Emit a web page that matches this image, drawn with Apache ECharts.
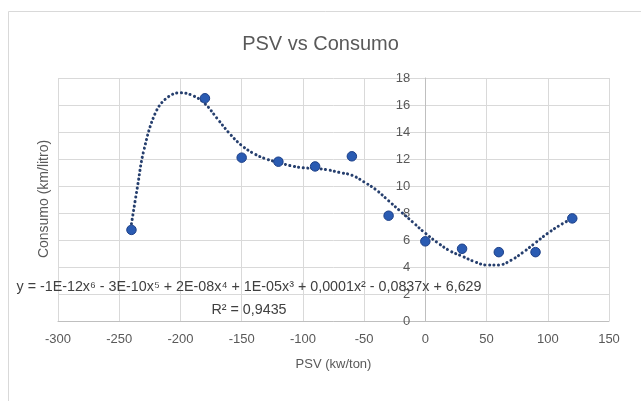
<!DOCTYPE html>
<html>
<head>
<meta charset="utf-8">
<script src="https://cdn.jsdelivr.net/npm/echarts@6/dist/echarts.min.js"></script>
<style>html,body{margin:0;padding:0;background:#fff}#c{width:641px;height:401px}</style>
</head>
<body>
<div id="c"></div>
<script>
const titleText = 'PSV vs Consumo';
const xName = 'PSV (kw/ton)';
const yName = 'Consumo (km/litro)';
const psv = [-240, -180, -150, -120, -90, -60, -30, 0, 30, 60, 90, 120];
const consumo = [6.75, 16.5, 12.1, 11.8, 11.45, 12.2, 7.8, 5.9, 5.35, 5.1, 5.1, 7.6];
const trendX = [-240, -235, -230, -220, -210, -200, -190, -180, -170, -160, -150, -140, -130, -120, -110, -100, -90, -80, -70, -60, -50, -40, -30, -20, -10, 0, 10, 20, 30, 40, 50, 60, 70, 80, 90, 100, 110, 120];
const trendY = [7.2, 10.0, 12.6, 15.5, 16.6, 16.9, 16.7, 16.1, 15.0, 13.9, 13.0, 12.4, 12.0, 11.75, 11.5, 11.35, 11.3, 11.2, 11.0, 10.8, 10.3, 9.7, 8.9, 8.1, 7.3, 6.5, 5.8, 5.2, 4.8, 4.4, 4.15, 4.15, 4.5, 5.1, 5.8, 6.5, 7.1, 7.6];
const eqLine1 = 'y = -1E-12x\u2076 - 3E-10x\u2075 + 2E-08x\u2074 + 1E-05x\u00b3 + 0,0001x\u00b2 - 0,0837x + 6,629';
const eqLine2 = 'R\u00b2 = 0,9435';

const xMin = -300, xMax = 150;
const gridLeft = 58, gridRight = 32;
const plotW = 641 - gridLeft - gridRight;
const yAxisOffset = -plotW * (0 - xMin) / (xMax - xMin);

const chart = echarts.init(document.getElementById('c'));
const font = 'Liberation Sans, Arial, sans-serif';
const grey = '#595959';
chart.setOption({
  animation: false,
  backgroundColor: '#fff',
  title: {
    text: titleText, left: 'center', top: 29,
    textStyle: {fontFamily: font, fontSize: 20, fontWeight: 'normal', color: grey}
  },
  grid: {left: gridLeft, right: gridRight, top: 78, bottom: 80},
  xAxis: {
    type: 'value', min: xMin, max: xMax, interval: 50,
    name: xName, nameLocation: 'middle', nameGap: 37,
    nameTextStyle: {fontFamily: font, fontSize: 13, color: grey},
    axisLine: {show: true, lineStyle: {color: '#bfbfbf'}},
    axisTick: {show: false},
    axisLabel: {fontFamily: font, fontSize: 13, color: grey, margin: 12,
      formatter: v => String(v)},
    splitLine: {show: true, lineStyle: {color: '#d9d9d9'}}
  },
  yAxis: {
    type: 'value', min: 0, max: 18, interval: 2,
    offset: yAxisOffset,
    axisLine: {show: true, onZero: false, lineStyle: {color: '#bfbfbf'}},
    axisTick: {show: false},
    axisLabel: {fontFamily: font, fontSize: 13, color: grey, margin: 15},
    splitLine: {show: true, lineStyle: {color: '#d9d9d9'}}
  },
  graphic: [
    {type: 'rect', silent: true, z: -10,
      shape: {x: 8.5, y: 11.5, width: 700, height: 500},
      style: {fill: null, stroke: '#d9d9d9', lineWidth: 1}},
    {type: 'text', x: 44, y: 199, rotation: Math.PI / 2, z: 10,
      style: {text: yName, fontFamily: font, fontSize: 14, fill: grey,
        align: 'center', verticalAlign: 'middle'}},
    {type: 'text', x: 249, y: 287, z: 10,
      style: {text: eqLine1, fontFamily: font, fontSize: 14.3, fill: '#404040',
        align: 'center', verticalAlign: 'middle'}},
    {type: 'text', x: 249, y: 310, z: 10,
      style: {text: eqLine2, fontFamily: font, fontSize: 14.3, fill: '#404040',
        align: 'center', verticalAlign: 'middle'}}
  ],
  series: [
    {
      type: 'line', smooth: 0.4, showSymbol: false, z: 2,
      data: trendX.map((x, i) => [x, trendY[i]]),
      lineStyle: {color: '#263f6e', width: 3, type: [0.1, 4.4], cap: 'round'}
    },
    {
      type: 'scatter', symbol: 'circle', symbolSize: 9.5, z: 3,
      data: psv.map((x, i) => [x, consumo[i]]),
      itemStyle: {color: '#2a5bb2', borderColor: '#1d4088', borderWidth: 1, opacity: 1}
    }
  ]
});
</script>
</body>
</html>
